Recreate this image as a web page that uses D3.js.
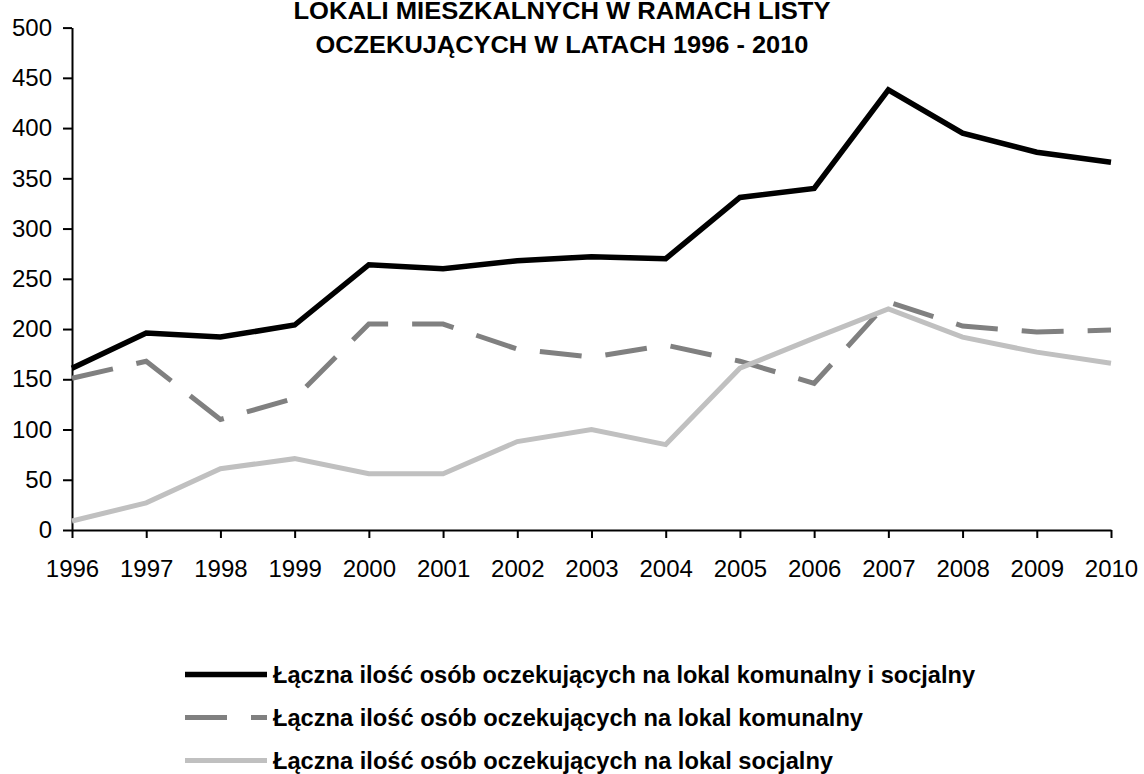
<!DOCTYPE html>
<html>
<head>
<meta charset="utf-8">
<script src="https://cdn.jsdelivr.net/npm/d3@7"></script>
<style>
  body { margin: 0; background: #fff; }
  svg { display: block; font-family: Arial, "Liberation Sans", sans-serif; }
  .axis path, .axis line { stroke: #000; stroke-width: 2; }
  .axis text { font-size: 24px; fill: #000; font-family: Arial, "Liberation Sans", sans-serif; }
</style>
</head>
<body>
<svg id="chart" width="1144" height="774"></svg>
<script>
const years = [1996, 1997, 1998, 1999, 2000, 2001, 2002, 2003, 2004, 2005, 2006, 2007, 2008, 2009, 2010];
const totalValues = [161, 196, 192, 204, 264, 260, 268, 272, 270, 331, 340, 438, 395, 376, 366];
const communalValues = [151, 168, 110, 131, 205, 205, 180, 172, 184, 168, 146, 227, 203, 197, 199];
const socialValues = [9, 27, 61, 71, 56, 56, 88, 100, 85, 161, 191, 220, 192, 177, 166];
const yTicks = [0, 50, 100, 150, 200, 250, 300, 350, 400, 450, 500];
const titleLines = ['LOKALI MIESZKALNYCH W RAMACH LISTY', 'OCZEKUJĄCYCH W LATACH 1996 - 2010'];

const series = [
  { name: 'Łączna ilość osób oczekujących na lokal komunalny i socjalny', values: totalValues, color: '#000000', width: 5.5, dash: null, textLen: 702 },
  { name: 'Łączna ilość osób oczekujących na lokal komunalny', values: communalValues, color: '#808080', width: 5, dash: '42,24', textLen: 590 },
  { name: 'Łączna ilość osób oczekujących na lokal socjalny', values: socialValues, color: '#c0c0c0', width: 5, dash: null, textLen: 560 }
];

const svg = d3.select('#chart');
const margin = { top: 27.6, left: 72, right: 33, bottom: 244 };
const width = 1144 - margin.left - margin.right;
const height = 774 - margin.top - margin.bottom;

const x = d3.scalePoint().domain(years).range([0, width]);
const y = d3.scaleLinear().domain([0, 500]).range([height, 0]);

const g = svg.append('g').attr('transform', `translate(${margin.left},${margin.top})`);

// title (top line partly cut off, as in the source)
svg.append('g').selectAll('text').data(titleLines).enter().append('text')
  .attr('x', 562).attr('y', (d, i) => 18.5 + i * 34.3)
  .attr('text-anchor', 'middle')
  .style('font-size', '24px').style('font-weight', 'bold')
  .attr('textLength', (d, i) => i === 0 ? 537 : 493)
  .attr('lengthAdjust', 'spacingAndGlyphs')
  .text(d => d);

g.append('g').attr('class', 'axis')
  .call(d3.axisLeft(y).tickValues(yTicks).tickSize(9).tickSizeOuter(0).tickPadding(11));

g.append('g').attr('class', 'axis').attr('transform', `translate(0,${height})`)
  .call(d3.axisBottom(x).tickSize(8).tickSizeOuter(0).tickPadding(22));

const line = d3.line().x((d, i) => x(years[i])).y(d => y(d));

series.forEach(s => {
  g.append('path').datum(s.values)
    .attr('d', line)
    .attr('fill', 'none')
    .attr('stroke', s.color)
    .attr('stroke-width', s.width)
    .attr('stroke-linejoin', 'miter')
    .attr('stroke-dasharray', s.dash);
});

// legend
const legend = svg.append('g').attr('transform', 'translate(185,674.5)');
series.forEach((s, i) => {
  const row = legend.append('g').attr('transform', `translate(0,${i * 43})`);
  row.append('line').attr('x1', 0).attr('x2', 82).attr('y1', 0).attr('y2', 0)
    .attr('stroke', s.color).attr('stroke-width', s.width)
    .attr('stroke-dasharray', s.dash);
  row.append('text').attr('x', 88).attr('y', 8.5)
    .style('font-size', '23px').style('font-weight', 'bold')
    .attr('textLength', s.textLen).attr('lengthAdjust', 'spacingAndGlyphs')
    .text(s.name);
});
</script>
</body>
</html>
